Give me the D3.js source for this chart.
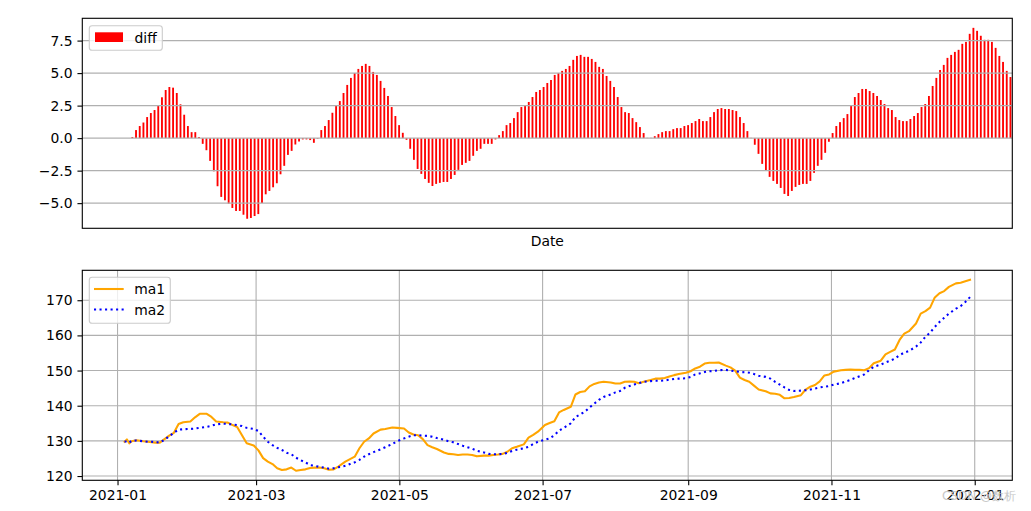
<!DOCTYPE html>
<html><head><meta charset="utf-8">
<script src="https://cdn.jsdelivr.net/npm/d3@7"></script>
<style>
body{margin:0;background:#fff}
svg{display:block}
text{font-family:"DejaVu Sans",sans-serif}
</style>
</head><body>
<svg id="c" width="1031" height="511"></svg>
<script>
// ---------- DATA ----------
const leadingMissing = 13;
const diffValues = [
0.08,0.62,0.93,1.2,1.62,1.93,2.16,2.54,3.14,3.7,
3.93,3.88,3.47,2.6,1.8,0.93,0.46,0.46,0.08,-0.44,
-0.93,-1.75,-2.55,-3.7,-4.52,-4.78,-5.04,-5.37,-5.6,-5.6,
-5.89,-6.2,-6.14,-5.99,-5.84,-4.99,-4.32,-4.06,-3.78,-3.47,
-2.78,-2.13,-1.29,-0.98,-0.49,-0.26,-0.1,-0.1,-0.15,-0.36,
-0.05,0.62,0.93,1.39,1.95,2.54,2.85,3.47,4.09,4.63,
5.01,5.32,5.55,5.71,5.55,5.09,4.86,4.4,3.86,3.24,
2.39,1.7,1.0,0.41,-0.13,-0.82,-1.67,-2.37,-2.75,-3.14,
-3.44,-3.68,-3.52,-3.44,-3.37,-3.37,-3.14,-2.83,-2.44,-2.06,
-1.9,-1.75,-1.36,-0.98,-0.82,-0.44,-0.44,-0.44,-0.1,0.23,
0.54,1.0,1.16,1.54,2.0,2.39,2.54,2.78,3.16,3.55,
3.7,3.93,4.24,4.47,4.86,5.01,5.17,5.32,5.55,6.02,
6.32,6.4,6.25,6.25,6.09,5.86,5.48,5.32,4.78,4.4,
3.93,3.16,2.39,2.0,1.93,1.54,1.23,0.85,0.39,0.02,
0.02,0.15,0.31,0.46,0.54,0.54,0.69,0.77,0.77,0.93,
1.0,1.16,1.31,1.47,1.31,1.31,1.62,2.0,2.24,2.31,
2.24,2.24,2.16,2.08,1.62,1.16,0.54,0.02,-0.51,-1.21,
-1.98,-2.52,-2.98,-3.29,-3.52,-3.83,-4.29,-4.45,-4.06,-3.75,
-3.6,-3.52,-3.52,-3.29,-2.67,-2.13,-1.67,-1.13,-0.28,0.39,
0.93,1.23,1.54,1.85,2.54,3.16,3.47,3.78,3.78,3.62,
3.47,3.24,2.93,2.62,2.31,2.16,1.62,1.39,1.31,1.31,
1.47,1.7,1.93,2.39,2.62,3.24,4.01,4.63,5.24,5.63,
6.17,6.4,6.63,6.79,7.25,7.4,8.02,8.48,8.25,7.87,
7.56,7.56,7.4,6.94,6.32,5.86,5.17,4.7
];
const diff = new Array(leadingMissing).fill(null).concat(diffValues);

const dates = [
"2021-01-04","2021-01-05","2021-01-06","2021-01-07","2021-01-09","2021-01-12","2021-01-14","2021-01-17","2021-01-19","2021-01-21",
"2021-01-23","2021-01-25","2021-01-27","2021-01-29","2021-02-01","2021-02-03","2021-02-05","2021-02-08","2021-02-10","2021-02-12",
"2021-02-15","2021-02-17","2021-02-19","2021-02-21","2021-02-23","2021-02-25","2021-02-28","2021-03-02","2021-03-04","2021-03-06",
"2021-03-08","2021-03-10","2021-03-12","2021-03-14","2021-03-16","2021-03-18","2021-03-20","2021-03-22","2021-03-24","2021-03-26",
"2021-03-28","2021-03-30","2021-04-01","2021-04-03","2021-04-05","2021-04-08","2021-04-10","2021-04-12","2021-04-14","2021-04-16",
"2021-04-18","2021-04-20","2021-04-23","2021-04-25","2021-04-28","2021-04-30","2021-05-03","2021-05-05","2021-05-07","2021-05-09",
"2021-05-11","2021-05-13","2021-05-15","2021-05-17","2021-05-20","2021-05-22","2021-05-24","2021-05-26","2021-05-28","2021-05-30",
"2021-06-01","2021-06-03","2021-06-06","2021-06-08","2021-06-10","2021-06-12","2021-06-14","2021-06-16","2021-06-18","2021-06-20",
"2021-06-23","2021-06-25","2021-06-27","2021-06-29","2021-07-02","2021-07-04","2021-07-06","2021-07-08","2021-07-10","2021-07-13",
"2021-07-15","2021-07-17","2021-07-19","2021-07-21","2021-07-23","2021-07-25","2021-07-27","2021-07-30","2021-08-01","2021-08-03",
"2021-08-05","2021-08-07","2021-08-09","2021-08-11","2021-08-13","2021-08-16","2021-08-18","2021-08-20","2021-08-22","2021-08-24",
"2021-08-26","2021-08-28","2021-08-31","2021-09-02","2021-09-04","2021-09-06","2021-09-08","2021-09-10","2021-09-12","2021-09-14",
"2021-09-17","2021-09-19","2021-09-21","2021-09-23","2021-09-25","2021-09-27","2021-09-29","2021-10-01","2021-10-04","2021-10-06",
"2021-10-08","2021-10-10","2021-10-12","2021-10-14","2021-10-16","2021-10-19","2021-10-21","2021-10-23","2021-10-25","2021-10-27",
"2021-10-29","2021-10-31","2021-11-02","2021-11-05","2021-11-07","2021-11-09","2021-11-11","2021-11-13","2021-11-15","2021-11-17",
"2021-11-19","2021-11-22","2021-11-24","2021-11-26","2021-11-28","2021-11-30","2021-12-02","2021-12-04","2021-12-07","2021-12-09",
"2021-12-11","2021-12-13","2021-12-15","2021-12-17","2021-12-19","2021-12-21","2021-12-24","2021-12-26","2021-12-28","2021-12-30"
];
const ma1 = [
129.75,130.4,129.3,129.9,130.2,129.9,129.75,129.5,129.5,130.5,
131.5,132.3,134.8,135.3,135.5,136.7,137.7,137.7,136.8,135.5,
135.3,135.2,134.5,133.9,131.6,129.3,128.7,127.3,125.1,124.1,
123.4,122.2,121.7,121.9,122.4,121.5,121.7,121.9,122.3,122.4,
122.4,122.2,121.8,121.9,122.7,124.1,124.8,125.5,127.9,129.75,
130.7,132.1,133.2,133.4,133.8,133.7,133.5,132.4,131.8,131.6,
130.5,128.8,128.2,127.7,126.7,126.3,126.2,126.0,126.1,126.1,
126.0,125.6,125.8,125.8,126.0,126.1,126.3,126.9,127.9,128.3,
129.0,130.9,131.7,132.6,134.5,135.1,135.6,138.1,138.8,139.7,
143.2,143.9,144.1,145.5,146.2,146.6,146.8,146.6,146.3,146.3,
146.8,146.9,146.8,146.4,146.8,147.3,147.7,147.7,147.9,148.3,
148.7,149.0,149.4,149.8,150.6,151.1,152.0,152.2,152.2,152.3,
151.4,150.9,150.0,148.0,147.3,146.8,145.7,144.6,144.1,143.5,
143.4,143.1,142.1,142.2,142.5,143.0,144.6,145.4,145.9,146.9,
148.6,148.9,149.7,150.1,150.2,150.3,150.2,150.2,150.1,150.7,
152.1,152.8,154.6,155.3,156.0,158.7,160.5,161.2,163.4,166.2,
166.9,167.9,170.8,172.0,172.6,173.8,174.8,175.0,175.4,175.8
];
const ma2 = [
129.75,129.9,129.5,130.0,130.1,129.9,129.75,129.7,129.5,130.3,
131.3,132.3,133.2,133.3,133.4,133.5,133.7,134.0,134.3,134.7,
134.9,134.8,134.7,134.5,134.2,133.7,133.4,132.8,131.2,129.75,
128.8,128.0,127.4,126.6,126.2,125.2,124.5,123.9,123.1,122.9,
122.6,122.4,122.1,122.2,122.5,122.9,123.4,123.9,124.6,125.5,
126.2,126.8,127.6,128.2,129.1,129.9,130.7,131.2,131.6,131.6,
131.5,131.4,131.2,130.8,130.3,129.9,129.6,129.1,128.6,128.2,
127.8,127.2,126.7,126.3,126.2,126.2,126.3,126.6,127.1,127.5,
127.9,128.3,129.1,129.75,130.3,130.7,131.6,132.9,133.7,135.0,
136.8,137.5,138.3,139.5,140.6,141.7,142.5,143.2,143.8,144.2,
145.1,145.6,146.0,146.4,146.8,147.0,147.1,147.1,147.2,147.4,
147.6,147.7,147.8,148.2,148.9,149.2,149.6,149.8,149.9,150.1,
150.2,150.0,149.8,149.6,149.5,149.4,149.0,148.5,148.2,147.7,
146.8,146.0,145.2,144.5,144.2,144.3,144.4,144.6,144.9,145.2,
145.4,145.6,146.0,146.4,146.9,147.3,147.9,148.4,148.9,150.1,
151.1,151.7,152.3,152.8,153.4,154.4,155.1,155.6,156.8,158.0,
159.6,160.8,162.4,163.8,165.0,166.2,167.6,168.3,169.5,170.9
];
const topTicks = [-5, -2.5, 0, 2.5, 5, 7.5];
const bottomTicks = [120, 130, 140, 150, 160, 170];
const xTickLabels = ["2021-01","2021-03","2021-05","2021-07","2021-09","2021-11","2022-01"];
const seriesNames = ["diff", "ma1", "ma2"];
const xLabel = "Date";
const watermark = "CSDN @数析";

// ---------- LAYOUT ----------
const FS = 13.9, TICK = 4.86, PAD = 4.86;
const LW = 2.08, GRIDW = 1.11, SPINEW = 1.11;
const DOTS = "2.08,3.44";
const L = 82.3, R = 1012.3;
const T1 = 18.3, B1 = 228.3, T2 = 270.3, B2 = 480.3;
const svg = d3.select("#c");
const pad5 = (lo, hi) => { const s = hi - lo; return [lo - 0.05 * s, hi + 0.05 * s]; };

// ---------- TOP PANEL ----------
const vals = diff.filter(d => d != null);
const yT = d3.scaleLinear().domain(pad5(Math.min(0, d3.min(vals)), Math.max(0, d3.max(vals)))).range([B1, T1]);
const xB = d3.scaleBand().domain(d3.range(diff.length)).range([L, R]).paddingInner(0.5).paddingOuter(0.25);

const gTop = svg.append("g");
gTop.selectAll("rect.bar").data(diff.map((v, i) => ({v, i})).filter(d => d.v != null)).join("rect")
  .attr("class", "bar")
  .attr("x", d => xB(d.i)).attr("width", xB.bandwidth())
  .attr("y", d => yT(Math.max(0, d.v)))
  .attr("height", d => Math.abs(yT(d.v) - yT(0)))
  .attr("fill", "#ff0000");
gTop.selectAll("line.grid").data(topTicks).join("line")
  .attr("x1", L).attr("x2", R).attr("y1", d => yT(d)).attr("y2", d => yT(d))
  .attr("stroke", "#b0b0b0").attr("stroke-width", GRIDW);
const axT = gTop.append("g").attr("transform", `translate(${L},0)`)
  .call(d3.axisLeft(yT).tickValues(topTicks).tickSize(TICK).tickPadding(PAD).tickFormat(d3.format(".1f")));
axT.select(".domain").remove();
axT.selectAll("text").attr("font-size", FS).attr("fill", "#000").attr("font-family", "DejaVu Sans");
axT.selectAll("line").attr("stroke", "#000").attr("stroke-width", SPINEW);
gTop.append("rect").attr("x", L).attr("y", T1).attr("width", R - L).attr("height", B1 - T1)
  .attr("fill", "none").attr("stroke", "#000").attr("stroke-width", SPINEW);
svg.append("text").attr("x", (L + R) / 2).attr("y", 245.5).attr("text-anchor", "middle")
  .attr("font-size", FS).text(xLabel);
const lg1 = svg.append("g");
lg1.append("rect").attr("x", 89.3).attr("y", 25.7).attr("width", 73).attr("height", 24.6).attr("rx", 2.8)
  .attr("fill", "#fff").attr("fill-opacity", 0.8).attr("stroke", "#cccccc").attr("stroke-width", GRIDW);
lg1.append("rect").attr("x", 95).attr("y", 32.3).attr("width", 28).attr("height", 9.7).attr("fill", "#ff0000");
lg1.append("text").attr("x", 134.5).attr("y", 42.5).attr("font-size", FS).text(seriesNames[0]);

// ---------- BOTTOM PANEL ----------
const parse = d3.timeParse("%Y-%m-%d");
const dts = dates.map(parse);
const ext = d3.extent(dts);
const span = ext[1] - ext[0];
const xT = d3.scaleTime().domain([new Date(+ext[0] - 0.05 * span), new Date(+ext[1] + 0.05 * span)]).range([L, R]);
const allV = ma1.concat(ma2);
const yB = d3.scaleLinear().domain(pad5(d3.min(allV), d3.max(allV))).range([B2, T2]);
const xTicks = xTickLabels.map(s => d3.timeParse("%Y-%m")(s));

const gBot = svg.append("g");
gBot.selectAll("line.gy").data(bottomTicks).join("line")
  .attr("x1", L).attr("x2", R).attr("y1", d => yB(d)).attr("y2", d => yB(d))
  .attr("stroke", "#b0b0b0").attr("stroke-width", GRIDW);
gBot.selectAll("line.gx").data(xTicks).join("line")
  .attr("x1", d => xT(d)).attr("x2", d => xT(d)).attr("y1", T2).attr("y2", B2)
  .attr("stroke", "#b0b0b0").attr("stroke-width", GRIDW);

const line = arr => d3.line().x((d, i) => xT(dts[i])).y(d => yB(d))(arr);
gBot.append("path").attr("d", line(ma1)).attr("fill", "none").attr("stroke", "#ffa500")
  .attr("stroke-width", LW).attr("stroke-linejoin", "round").attr("stroke-linecap", "square");
gBot.append("path").attr("d", line(ma2)).attr("fill", "none").attr("stroke", "#0000ff")
  .attr("stroke-width", LW).attr("stroke-dasharray", DOTS);

const axBY = gBot.append("g").attr("transform", `translate(${L},0)`)
  .call(d3.axisLeft(yB).tickValues(bottomTicks).tickSize(TICK).tickPadding(PAD).tickFormat(d3.format("d")));
const axBX = gBot.append("g").attr("transform", `translate(0,${B2})`)
  .call(d3.axisBottom(xT).tickValues(xTicks).tickSize(TICK).tickPadding(PAD).tickFormat(d3.timeFormat("%Y-%m")));
[axBY, axBX].forEach(a => {
  a.select(".domain").remove();
  a.selectAll("text").attr("font-size", FS).attr("fill", "#000").attr("font-family", "DejaVu Sans");
  a.selectAll("line").attr("stroke", "#000").attr("stroke-width", SPINEW);
});
gBot.append("rect").attr("x", L).attr("y", T2).attr("width", R - L).attr("height", B2 - T2)
  .attr("fill", "none").attr("stroke", "#000").attr("stroke-width", SPINEW);

const lg2 = svg.append("g");
lg2.append("rect").attr("x", 89.3).attr("y", 277.3).attr("width", 81).attr("height", 46).attr("rx", 2.8)
  .attr("fill", "#fff").attr("fill-opacity", 0.8).attr("stroke", "#cccccc").attr("stroke-width", GRIDW);
lg2.append("line").attr("x1", 94).attr("x2", 123.7).attr("y1", 289).attr("y2", 289)
  .attr("stroke", "#ffa500").attr("stroke-width", LW);
lg2.append("line").attr("x1", 94).attr("x2", 123.7).attr("y1", 309.5).attr("y2", 309.5)
  .attr("stroke", "#0000ff").attr("stroke-width", LW).attr("stroke-dasharray", DOTS);
lg2.append("text").attr("x", 134.3).attr("y", 294).attr("font-size", FS).text(seriesNames[1]);
lg2.append("text").attr("x", 134.3).attr("y", 314.5).attr("font-size", FS).text(seriesNames[2]);

svg.append("text").attr("x", 1016).attr("y", 500).attr("text-anchor", "end")
  .attr("font-size", 12).attr("fill", "#c8c8c8").attr("font-family", "Noto Sans CJK SC, DejaVu Sans")
  .text(watermark);
</script>
</body></html>
